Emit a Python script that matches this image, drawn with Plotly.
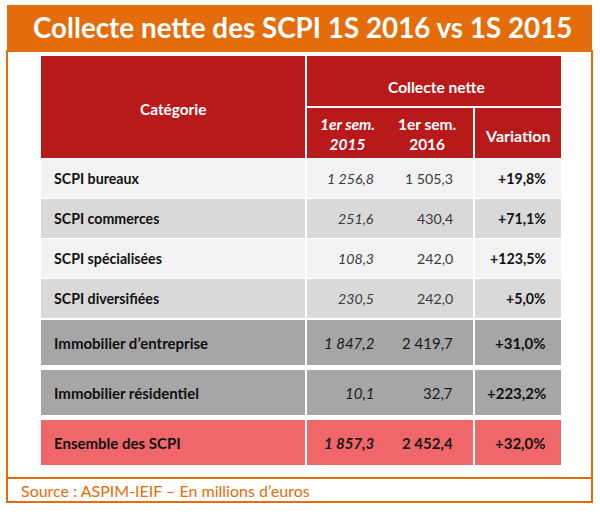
import plotly.graph_objects as go

# ---------------- data ----------------
title_text = "Collecte nette des SCPI 1S 2016 vs 1S 2015"
source_text = "Source : ASPIM-IEIF – En millions d’euros"
header_cat = "Catégorie"
header_group = "Collecte nette"
header_2015 = "1er sem.<br>2015"
header_2016 = "1er sem.<br>2016"
header_var = "Variation"

categories = ["SCPI bureaux", "SCPI commerces", "SCPI spécialisées", "SCPI diversifiées",
              "Immobilier d’entreprise", "Immobilier résidentiel", "Ensemble des SCPI"]
collecte_2015 = [1256.8, 251.6, 108.3, 230.5, 1847.2, 10.1, 1857.3]
collecte_2016 = [1505.3, 430.4, 242.0, 242.0, 2419.7, 32.7, 2452.4]
variation = [19.8, 71.1, 123.5, 5.0, 31.0, 223.2, 32.0]

# ---------------- style ----------------
W, H = 600, 514
FONT = "Lato, 'Open Sans', sans-serif"
ORANGE = "#E46C0A"
RED = "#B81A1C"
row_fill = ["#F2F2F2", "#D9D9D9", "#F2F2F2", "#D9D9D9", "#A6A6A6", "#A6A6A6", "#F0676A"]
row_heights = [39, 39, 39, 39, 45, 45, 45]
row_gaps = [1, 1, 1, 1, 2, 5, 5]
col_edges = [40, 306, 474, 562]
head_top, head_mid, head_bot = 56, 107, 158
gap = 2


def fr(v, dec=1):
    s = f"{v:,.{dec}f}"
    return s.replace(",", " ").replace(".", ",")


shapes = []
annotations = []


def rect(x0, y0, x1, y1, color, line=None, lw=0):
    shapes.append(dict(type="rect", xref="x", yref="y", x0=x0, x1=x1, y0=y0, y1=y1,
                       fillcolor=color, line=dict(color=line or color, width=lw),
                       layer="below"))


def text(x, y, s, size, color, xanchor="center", family=FONT):
    annotations.append(dict(x=x, y=y, xref="x", yref="y", text=s, showarrow=False,
                            xanchor=xanchor, yanchor="middle",
                            font=dict(family=family, size=size, color=color), align="center"))


# outer frame
rect(7, 51, 592, 502, "rgba(0,0,0,0)", ORANGE, 2)
shapes.append(dict(type="line", xref="x", yref="y", x0=7, x1=592, y0=478, y1=478,
                   line=dict(color=ORANGE, width=2)))
# title banner
rect(7, 5, 592, 51, ORANGE)
text(302, 27, f"<b>{title_text}</b>", 27.8, "white")

# header cells
h = gap / 2
rect(col_edges[0] + h, head_top, col_edges[1] - h, head_bot, RED)
rect(col_edges[1] + h, head_top, col_edges[3] - h, head_mid - h, RED)
rect(col_edges[1] + h, head_mid + h, col_edges[2] - h, head_bot, RED)
rect(col_edges[2] + h, head_mid + h, col_edges[3] - h, head_bot, RED)
text((col_edges[0] + col_edges[1]) / 2, 109, f"<b>{header_cat}</b>", 15.4, "white")
text(436, 87, f"<b>{header_group}</b>", 15.6, "white")
text(347, 133.5, f"<b><i>{header_2015}</i></b>", 15.5, "white")
text(427, 133.5, f"<b>{header_2016}</b>", 15.5, "white")
text((col_edges[2] + col_edges[3]) / 2, 135, f"<b>{header_var}</b>", 16, "white")

# body rows
y = head_bot
for i, cat in enumerate(categories):
    y0 = y + row_gaps[i]
    y1 = y0 + row_heights[i]
    for c in range(3):
        rect(col_edges[c] + h, y0, col_edges[c + 1] - h, y1, row_fill[i])
    ym = (y0 + y1) / 2
    big = i >= 4
    fs = 15 if big else 14.2
    bold_vals = i == 6
    v15 = f"<i>{fr(collecte_2015[i])}</i>"
    v16 = fr(collecte_2016[i])
    if bold_vals:
        v15, v16 = f"<b>{v15}</b>", f"<b>{v16}</b>"
    txtcol = "#1A1A1A" if big else "#3A3A3A"
    text(52, ym, f"<b>{cat}</b>", fs, "#111111", xanchor="left")
    text(376, ym, v15, fs, txtcol, xanchor="right")
    text(455, ym, v16, fs, txtcol, xanchor="right")
    text(548, ym, f"<b>+{fr(variation[i])}%</b>", fs, "#111111", xanchor="right")
    y = y1

# source
text(19, 490, source_text, 16, ORANGE, xanchor="left")

fig = go.Figure()
fig.update_layout(
    width=W, height=H, margin=dict(l=0, r=0, t=0, b=0),
    paper_bgcolor="white", plot_bgcolor="white",
    xaxis=dict(range=[0, W], visible=False, fixedrange=True),
    yaxis=dict(range=[H, 0], visible=False, fixedrange=True),
    shapes=shapes, annotations=annotations, showlegend=False,
)
fig.write_html("out.html", post_script="document.body.style.margin='0';document.body.style.overflow='hidden';",
               config={"displayModeBar": False})
